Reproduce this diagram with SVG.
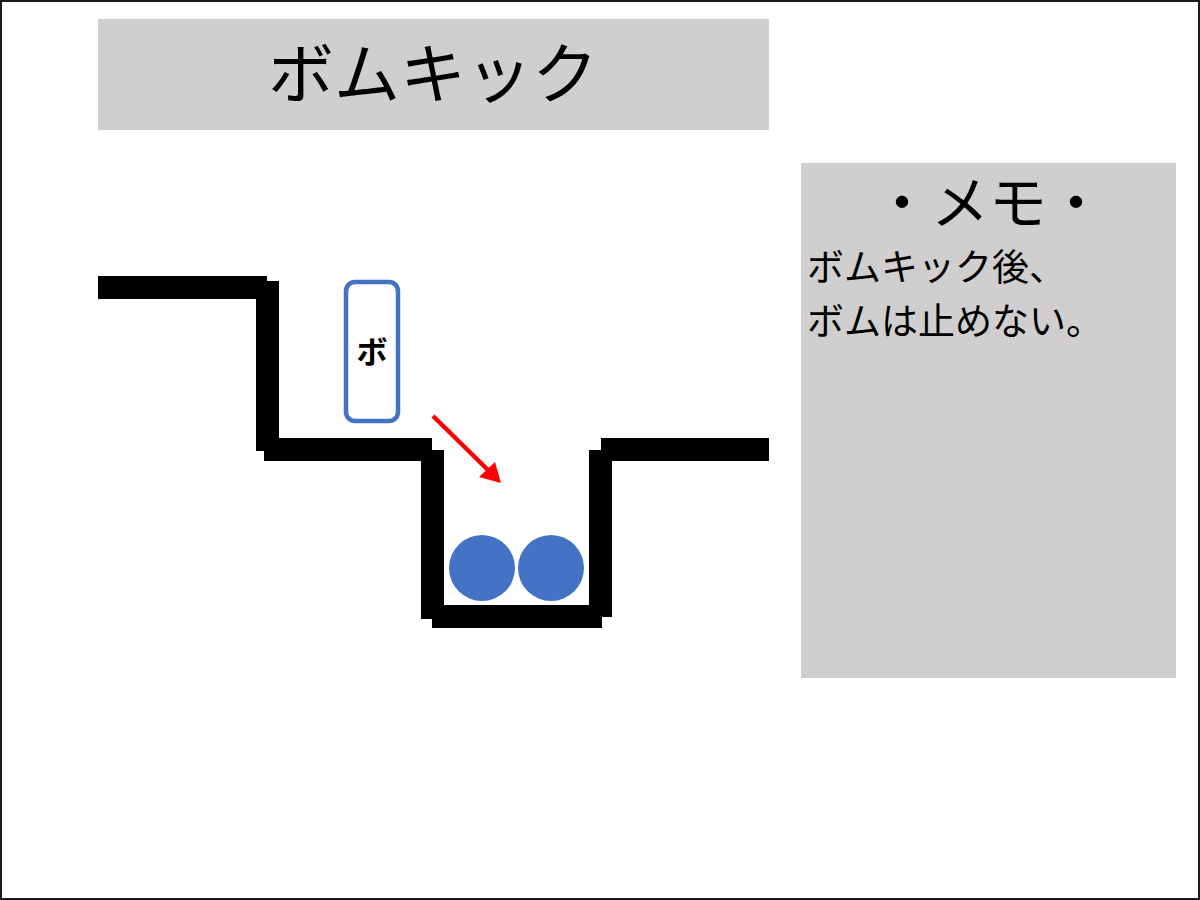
<svg xmlns="http://www.w3.org/2000/svg" width="1200" height="900" viewBox="0 0 1200 900">
<style>
.box{fill:#D0CECE}
.wall{fill:#000}
.jp{font-family:"Noto Sans CJK JP","Noto Sans CJK SC",sans-serif;fill:#000}
</style>
<rect x="1" y="1" width="1198" height="898" fill="#fff" stroke="#1a1a1a" stroke-width="2"/>
<g id="title">
<rect class="box" x="98" y="19" width="671" height="111"/>
<text class="jp" x="433" y="98" font-size="66" text-anchor="middle">ボムキック</text>
</g>
<g id="memo">
<rect class="box" x="801" y="163" width="375" height="515"/>
<text class="jp" x="989" y="224" font-size="58" text-anchor="middle">・メモ・</text>
<text class="jp" x="807" y="281" font-size="37">ボムキック後、</text>
<text class="jp" x="807" y="335" font-size="37">ボムは止めない。</text>
</g>
<g id="terrain">
<rect class="wall" x="98" y="276" width="169" height="23"/>
<rect class="wall" x="256" y="281" width="23" height="170"/>
<rect class="wall" x="264" y="438" width="168" height="23"/>
<rect class="wall" x="421" y="450" width="23" height="169"/>
<rect class="wall" x="432" y="605" width="170" height="23"/>
<rect class="wall" x="589" y="450" width="23" height="167"/>
<rect class="wall" x="601" y="438" width="168" height="23"/>
</g>
<g id="bomb-block">
<rect x="346" y="282" width="52" height="139" rx="9" fill="#fff" stroke="#4472C4" stroke-width="4.5"/>
<text x="372" y="363" font-family="'Noto Sans CJK JP',sans-serif" font-weight="bold" font-size="31" text-anchor="middle">ボ</text>
</g>
<g id="balls">
<circle cx="482" cy="568" r="33" fill="#4472C4"/>
<circle cx="551" cy="568" r="33" fill="#4472C4"/>
</g>
<g id="connectors">
<line x1="433" y1="416" x2="488" y2="470" stroke="#FF0000" stroke-width="4.5"/>
<polygon points="501,483 479,477 495,462" fill="#FF0000"/>
</g>
</svg>
